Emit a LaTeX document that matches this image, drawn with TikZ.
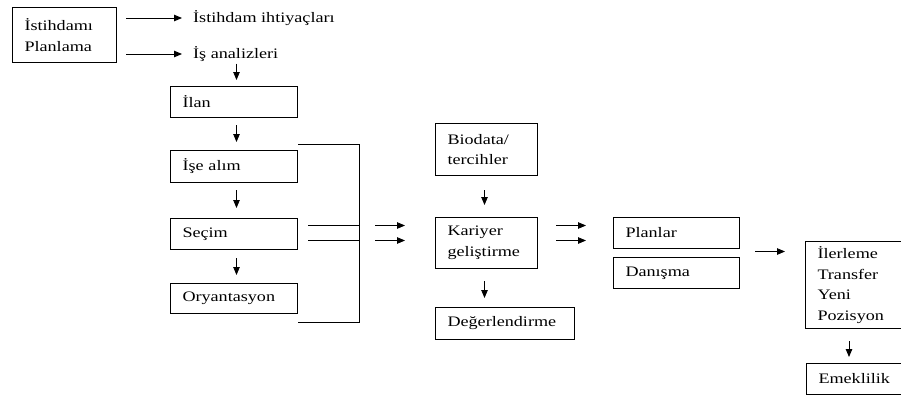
\documentclass[tikz,border=0pt]{standalone}
\usepackage{fontspec}
\setmainfont{Liberation Serif}[FakeStretch=1.25]
\usetikzlibrary{arrows.meta}
\begin{document}
\begin{tikzpicture}[x=1pt,y=-1pt,
  font=\fontsize{14.5}{20.7}\selectfont,
  box/.style={draw, line width=1pt, anchor=north west, inner xsep=12pt, inner ysep=0pt, align=left},
  lbl/.style={anchor=west, inner sep=0pt},
  arr/.style={line width=0.9pt, -{Triangle[length=8pt,width=6.5pt]}},
  ln/.style={line width=0.9pt}]
\useasboundingbox (0,0) rectangle (901,397);
\clip (0,0) rectangle (901,397);
% boxes
\node[box, text width=80pt, minimum height=55pt] (plan) at (12,7) {İstihdamı\\Planlama};
\node[lbl] (ihtiyac) at (193,18) {İstihdam ihtiyaçları};
\node[lbl] (isan) at (193,54) {İş analizleri};
\node[box, text width=103pt, minimum height=31pt] (ilan) at (170,86) {İlan};
\node[box, text width=103pt, minimum height=32pt] (ise) at (170,150) {İşe alım};
\node[box, text width=103pt, minimum height=31pt] (secim) at (170,218) {Seçim};
\node[box, text width=103pt, minimum height=30pt] (orya) at (170,283) {Oryantasyon};
\node[box, text width=78pt, minimum height=52pt] (bio) at (435,123) {Biodata/\\tercihler};
\node[box, text width=78pt, minimum height=51pt] (kar) at (435,217) {Kariyer\\geliştirme};
\node[box, text width=115pt, minimum height=32pt] (deg) at (435,307) {Değerlendirme};
\node[box, text width=102pt, minimum height=31pt] (planlar) at (613,217) {Planlar};
\node[box, text width=102pt, minimum height=31pt] (danis) at (613,257) {Danışma};
\node[box, text width=83pt, minimum height=87pt] (iler) at (805,241) {İlerleme\\Transfer\\Yeni\\Pozisyon};
\node[box, text width=83pt, minimum height=31pt] (emek) at (806,363) {Emeklilik};
% planning arrows
\draw[arr, shorten >=11pt] ([xshift=9pt]plan.east |- ihtiyac.west) -- (ihtiyac.west);
\draw[arr, shorten >=11pt] ([xshift=9pt]plan.east |- isan.west) -- (isan.west);
\draw[arr, shorten <=2pt, shorten >=6pt] ([xshift=2.5pt]ilan.north |- isan.south) -- ([xshift=2.5pt]ilan.north);
% vertical chain
\draw[arr, shorten <=7pt, shorten >=8pt] ([xshift=2.5pt]ilan.south) -- ([xshift=2.5pt]ise.north);
\draw[arr, shorten <=7pt, shorten >=10pt] ([xshift=2.5pt]ise.south) -- ([xshift=2.5pt]secim.north);
\draw[arr, shorten <=8pt, shorten >=8pt] ([xshift=2.5pt]secim.south) -- ([xshift=2.5pt]orya.north);
% bracket
\coordinate (brT) at (359,144);
\coordinate (brB) at (359,322);
\draw[ln] (ise.east |- brT) -- (brT) -- (brB) -- (orya.east |- brB);
\coordinate (s1) at ([yshift=8.5pt]secim.east);
\coordinate (s2) at ([yshift=-6.5pt]secim.east);
\draw[ln] ([xshift=10pt]s1) -- (s1 -| brT);
\draw[ln] ([xshift=10pt]s2) -- (s2 -| brT);
\draw[arr] ([xshift=16pt]s1 -| brT) -- ([xshift=-30pt]s1 -| kar.west);
\draw[arr] ([xshift=16pt]s2 -| brT) -- ([xshift=-30pt]s2 -| kar.west);
% career column
\draw[arr, shorten <=14pt, shorten >=12pt] ([xshift=-2pt]kar.north |- bio.south) -- ([xshift=-2pt]kar.north);
\draw[arr, shorten <=12pt, shorten >=9pt] ([xshift=-2pt]kar.south) -- ([xshift=-2pt]kar.south |- deg.north);
\draw[arr] ([xshift=18pt]s1 -| kar.east) -- ([xshift=-27pt]s1 -| planlar.west);
\draw[arr] ([xshift=18pt]s2 -| kar.east) -- ([xshift=-27pt]s2 -| planlar.west);
% to outcomes
\coordinate (m) at ([xshift=15pt,yshift=-2.5pt]planlar.south east);
\draw[arr] (m) -- ([xshift=-20pt]m -| iler.west);
\draw[arr, shorten <=12pt, shorten >=6pt] ([xshift=44pt]iler.south west) -- ([xshift=44pt]iler.south west |- emek.north);
\end{tikzpicture}
\end{document}
